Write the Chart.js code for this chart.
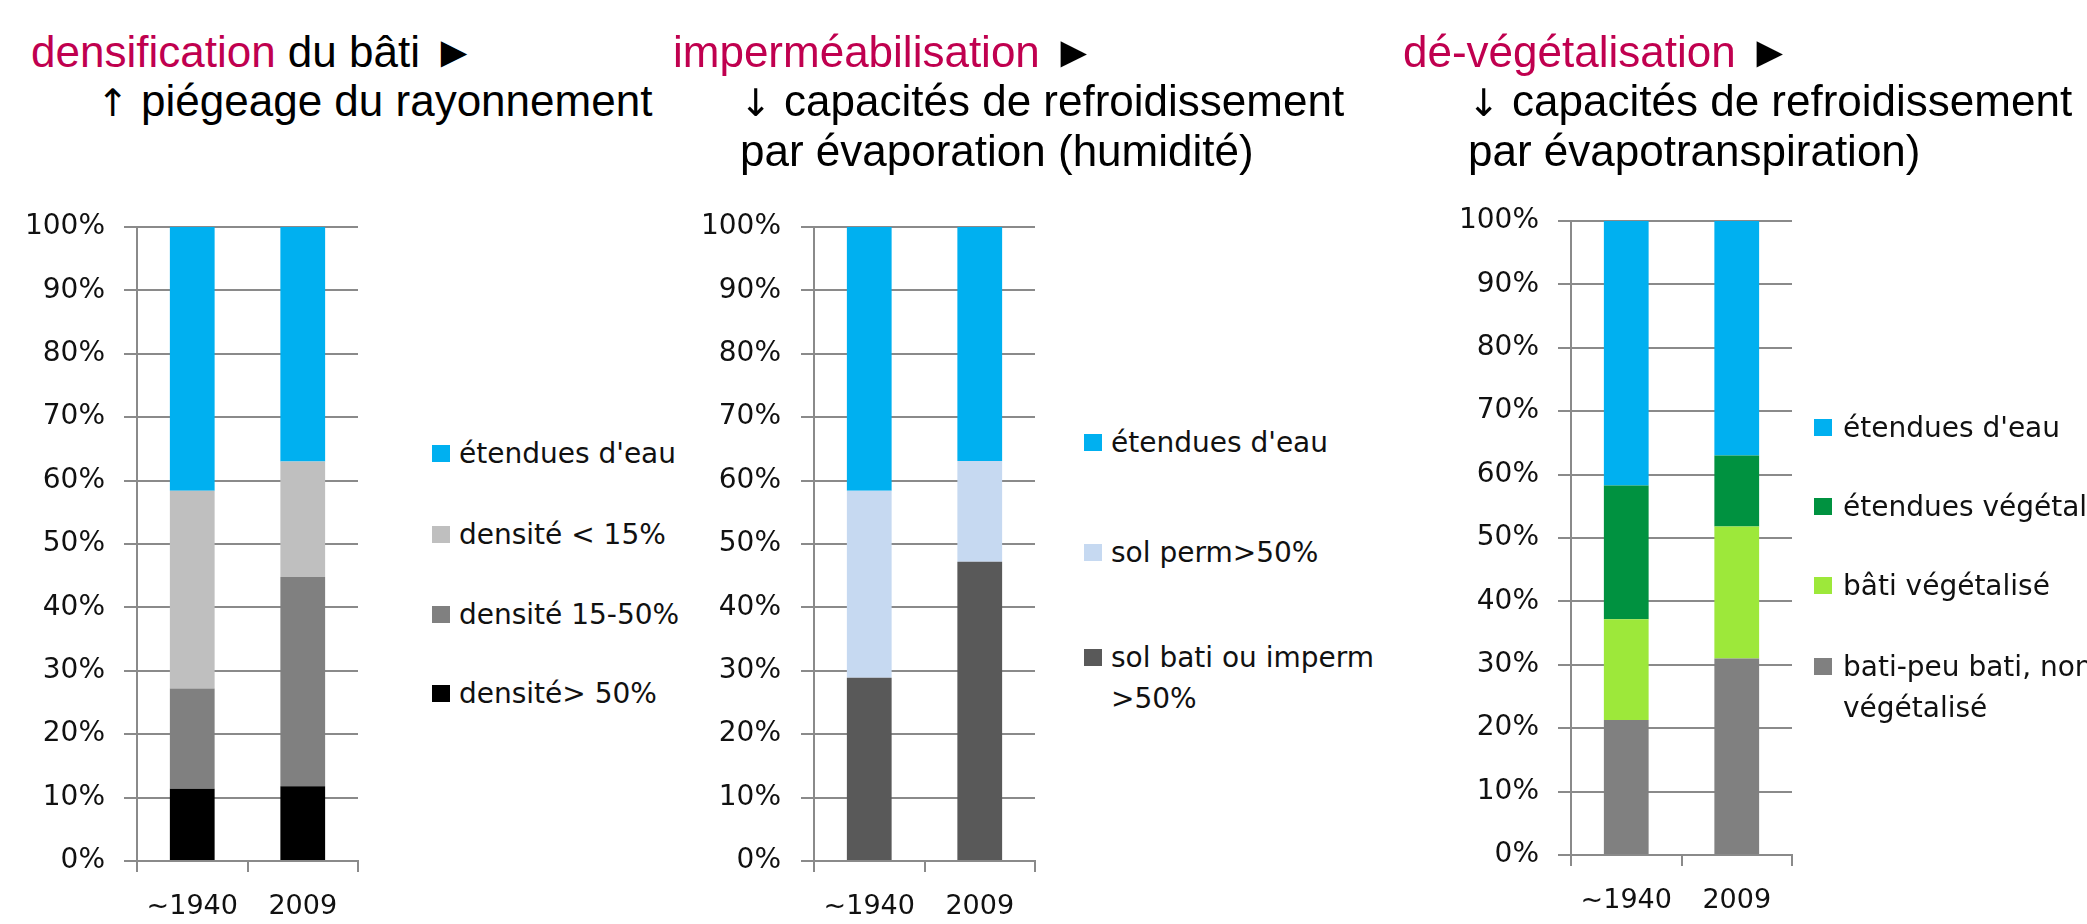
<!DOCTYPE html>
<html lang="fr">
<head>
<meta charset="utf-8">
<title>densification, imperméabilisation, dé-végétalisation</title>
<script src="https://cdn.jsdelivr.net/npm/chart.js@4.4.1/dist/chart.umd.min.js"></script>
<style>
  html, body { margin:0; padding:0; background:#fff; }
  body { width:2087px; height:924px; position:relative; overflow:hidden; }
  .title { position:absolute; font-family:"Liberation Sans", Arial, sans-serif; font-size:44px; line-height:48.5px; color:#000; white-space:pre; z-index:2; }
  .title .hl { color:#c0004f; }
  .title .arr { font-family:"DejaVu Sans", sans-serif; font-size:38px; }
  canvas { position:absolute; z-index:1; }
  .leg { position:absolute; font-family:"DejaVu Sans", sans-serif; font-size:28px; line-height:41px; color:#111; white-space:pre; z-index:2; }
  .leg i { position:absolute; left:0; top:12px; width:18px; height:17px; }
  .leg span { display:block; }
</style>
</head>
<body>

<div class="title" style="left:31px; top:28px;"><span class="hl">densification</span> du bâti ►
<span style="padding-left:66px"><span class="arr">↑</span> piégeage du rayonnement</span></div>

<div class="title" style="left:673px; top:28px;"><span class="hl">imperméabilisation</span> ►
<span style="padding-left:67px"><span class="arr">↓</span> capacités de refroidissement</span>
<span style="padding-left:67px">par évaporation (humidité)</span></div>

<div class="title" style="left:1403px; top:28px;"><span class="hl">dé-végétalisation</span> ►
<span style="padding-left:65px"><span class="arr">↓</span> capacités de refroidissement</span>
<span style="padding-left:65px">par évapotranspiration)</span></div>

<canvas id="c1" width="380" height="764" style="left:0px; top:160px;"></canvas>
<canvas id="c2" width="380" height="764" style="left:680px; top:160px;"></canvas>
<canvas id="c3" width="440" height="764" style="left:1380px; top:160px;"></canvas>

<script>
const years = ["~1940", "2009"];

// densification du bâti (% surface)
const dens50 = [11.4, 11.8];
const dens15to50 = [15.8, 33.0];
const densLt15 = [31.2, 18.2];
const eau1 = [41.6, 37.0];

// imperméabilisation
const solBati = [28.9, 47.2];
const solPerm = [29.5, 15.9];
const eau2 = [41.6, 36.9];

// dé-végétalisation
const batiNonVeg = [21.3, 31.0];
const batiVeg = [15.9, 20.8];
const etenduesVeg = [21.1, 11.2];
const eau3 = [41.7, 37.0];

const BLUE = "#00b0f0";
const GRID = "#8a8a8a";
const TXT = "#111";
const xFont = { family: "DejaVu Sans", size: 27 };
const yFont = { family: "DejaVu Sans", size: 28 };

function makeChart(id, box, datasets) {
  const canvas = document.getElementById(id);
  const left = parseFloat(canvas.style.left), top = parseFloat(canvas.style.top);
  const a = box.area;
  const yWidth = a.left - left;
  const xHeight = top + canvas.height - a.bottom;

  return new Chart(canvas.getContext("2d"), {
    type: "bar",
    data: {
      labels: years,
      datasets: datasets.map(d => ({
        label: d.label,
        data: d.data,
        backgroundColor: d.color,
        borderWidth: 0,
        categoryPercentage: 1,
        barPercentage: 0.405,
      })),
    },
    options: {
      responsive: false,
      animation: false,
      devicePixelRatio: 1,
      layout: { padding: { top: a.top - top, right: left + canvas.width - a.right, left: 0, bottom: 0 } },
      plugins: { legend: { display: false }, tooltip: { enabled: false } },
      scales: {
        x: {
          stacked: true,
          grid: { offset: true, drawOnChartArea: false, color: GRID, lineWidth: 2, tickLength: 11 },
          border: { color: GRID, width: 2 },
          ticks: { font: xFont, color: TXT, padding: 19, maxRotation: 0 },
          afterFit: (s) => { s.height = xHeight; },
        },
        y: {
          stacked: true,
          min: 0,
          max: 100,
          grid: { color: GRID, lineWidth: 2, tickLength: 13 },
          border: { color: GRID, width: 2 },
          ticks: { stepSize: 10, font: yFont, color: TXT, padding: box.tickPad, callback: v => v + "%" },
          afterFit: (s) => { s.width = yWidth; },
        },
      },
    },
  });
}

function makeLegend(leg) {
  leg.items.forEach((it, i) => {
    const div = document.createElement("div");
    div.className = "leg";
    div.style.left = leg.x + "px";
    div.style.top = (leg.ys[i] - 20.5) + "px";
    div.innerHTML = `<i style="background:${it.color}"></i><span style="padding-left:${leg.textDx}px"></span>`;
    div.querySelector("span").textContent = it.label;
    document.body.appendChild(div);
  });
}

const set1 = [
  { label: "densité> 50%", data: dens50, color: "#000000" },
  { label: "densité 15-50%", data: dens15to50, color: "#808080" },
  { label: "densité < 15%", data: densLt15, color: "#bfbfbf" },
  { label: "étendues d'eau", data: eau1, color: BLUE },
];
const set2 = [
  { label: "sol bati ou imperm\n>50%", data: solBati, color: "#595959" },
  { label: "sol perm>50%", data: solPerm, color: "#c6d9f1" },
  { label: "étendues d'eau", data: eau2, color: BLUE },
];
const set3 = [
  { label: "bati-peu bati, non\nvégétalisé", data: batiNonVeg, color: "#808080" },
  { label: "bâti végétalisé", data: batiVeg, color: "#9de83a" },
  { label: "étendues végétalisées", data: etenduesVeg, color: "#009240" },
  { label: "étendues d'eau", data: eau3, color: BLUE },
];

makeChart("c1", { area: { left: 137, top: 227, right: 358, bottom: 861 }, tickPad: 19 }, set1);
makeChart("c2", { area: { left: 814, top: 227, right: 1035, bottom: 861 }, tickPad: 20 }, set2);
makeChart("c3", { area: { left: 1571, top: 221, right: 1792, bottom: 855 }, tickPad: 19 }, set3);

// legends, top item first (reverse of stacking order)
makeLegend({ x: 432, textDx: 27, ys: [453, 534, 614, 693], items: set1.slice().reverse() });
makeLegend({ x: 1084, textDx: 27, ys: [442, 552, 657], items: set2.slice().reverse() });
makeLegend({ x: 1814, textDx: 29, ys: [427, 506, 585, 666], items: set3.slice().reverse() });
</script>
</body>
</html>
